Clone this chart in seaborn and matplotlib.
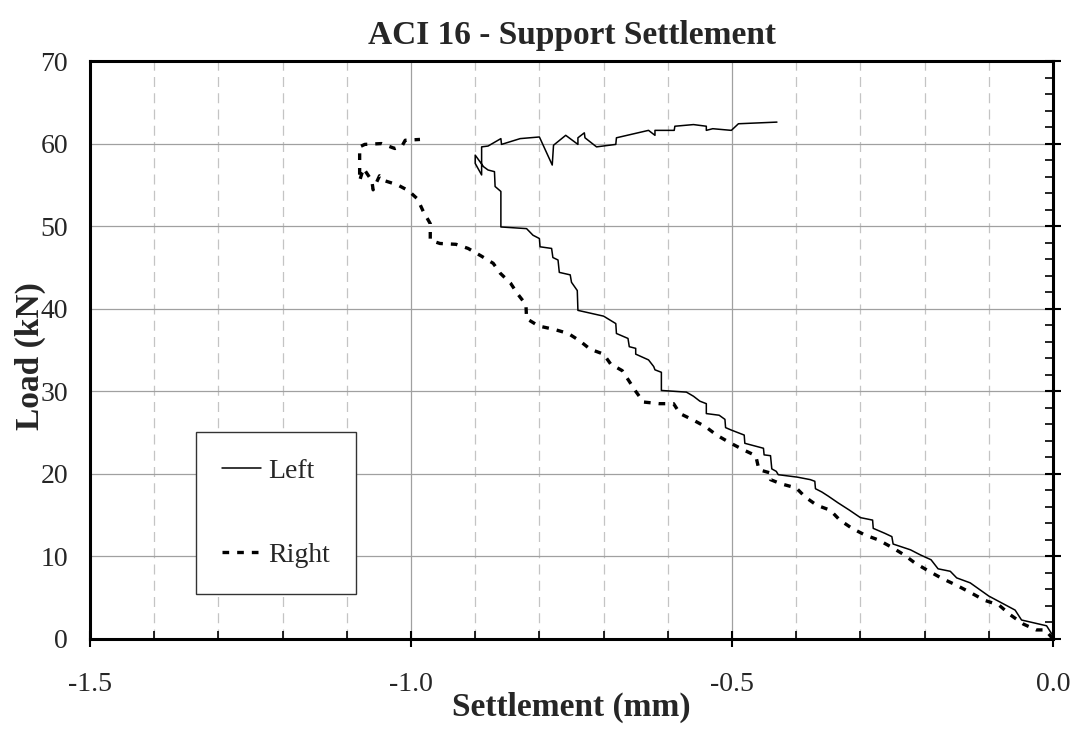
import matplotlib
matplotlib.use("Agg")
import matplotlib.pyplot as plt
from matplotlib.ticker import MultipleLocator, FormatStrFormatter
import pandas as pd
import seaborn as sns

# Settlement (mm) and load (kN)
left_x = [0.000, -0.001, -0.010, -0.049, -0.059, -0.100, -0.129, -0.150, -0.160, -0.179,
          -0.190, -0.207, -0.222, -0.249, -0.251, -0.262, -0.280, -0.281, -0.300, -0.317,
          -0.335, -0.350, -0.360, -0.370, -0.371, -0.378, -0.398, -0.428, -0.431, -0.438,
          -0.440, -0.450, -0.451, -0.480, -0.481, -0.501, -0.510, -0.511, -0.520, -0.540,
          -0.540, -0.550, -0.560, -0.571, -0.610, -0.610, -0.620, -0.622, -0.630, -0.650,
          -0.650, -0.660, -0.662, -0.680, -0.681, -0.700, -0.740, -0.741, -0.750, -0.752,
          -0.769, -0.771, -0.779, -0.781, -0.799, -0.800, -0.810, -0.820, -0.860, -0.860,
          -0.869, -0.870, -0.880, -0.887, -0.900, -0.900, -0.890, -0.890, -0.880, -0.860,
          -0.859, -0.830, -0.800, -0.780, -0.778, -0.759, -0.740, -0.740, -0.730, -0.729,
          -0.711, -0.681, -0.680, -0.630, -0.620, -0.620, -0.590, -0.589, -0.560, -0.540,
          -0.540, -0.530, -0.501, -0.490, -0.430]
left_y = [0.0, 0.5, 1.6, 2.3, 3.5, 5.2, 6.8, 7.4, 8.2, 8.5,
          9.6, 10.2, 10.8, 11.5, 12.4, 12.8, 13.4, 14.4, 14.7, 15.6,
          16.5, 17.3, 17.8, 18.2, 19.1, 19.3, 19.6, 19.9, 20.3, 20.6,
          22.2, 22.3, 23.1, 23.7, 24.7, 25.3, 25.6, 26.6, 27.1, 27.3,
          28.5, 28.8, 29.4, 29.9, 30.1, 32.3, 32.6, 33.0, 33.8, 34.5,
          35.2, 35.4, 36.4, 37.0, 38.2, 39.1, 39.8, 42.2, 43.2, 44.1,
          44.4, 45.9, 46.2, 47.3, 47.5, 48.5, 48.9, 49.7, 49.9, 54.2,
          54.8, 56.6, 56.8, 57.2, 58.6, 57.6, 56.2, 59.6, 59.7, 60.6,
          59.9, 60.6, 60.8, 57.4, 59.8, 61.0, 59.9, 60.7, 61.3, 60.7,
          59.6, 59.9, 60.7, 61.6, 61.0, 61.6, 61.6, 62.1, 62.3, 62.1,
          61.6, 61.8, 61.6, 62.4, 62.6]

right_x = [0.000, -0.012, -0.026, -0.046, -0.066, -0.084, -0.107, -0.128, -0.150, -0.172,
           -0.193, -0.215, -0.232, -0.251, -0.272, -0.293, -0.313, -0.332, -0.347, -0.368,
           -0.386, -0.400, -0.424, -0.440, -0.440, -0.458, -0.463, -0.482, -0.504, -0.524,
           -0.541, -0.560, -0.581, -0.591, -0.613, -0.638, -0.650, -0.660, -0.671, -0.689,
           -0.700, -0.721, -0.737, -0.755, -0.777, -0.801, -0.820, -0.821, -0.834, -0.845,
           -0.861, -0.872, -0.891, -0.911, -0.930, -0.955, -0.970, -0.970, -0.981, -0.990,
           -1.004, -1.021, -1.041, -1.049, -1.059, -1.061, -1.074, -1.080, -1.080, -1.072,
           -1.046, -1.025, -1.014, -1.009, -0.986]
right_y = [0.0, 1.1, 1.1, 1.8, 2.9, 4.1, 4.7, 5.6, 6.5, 7.3,
           8.2, 9.2, 10.2, 11.1, 12.0, 12.6, 13.4, 14.4, 15.6, 16.2,
           17.2, 18.3, 18.8, 19.3, 20.1, 20.5, 22.2, 22.9, 23.8, 24.7,
           25.7, 26.5, 27.3, 28.5, 28.5, 28.7, 30.0, 31.2, 32.5, 33.3,
           34.5, 35.1, 36.1, 37.0, 37.5, 37.9, 38.8, 40.5, 41.8, 43.1,
           44.3, 45.5, 46.4, 47.3, 47.8, 47.9, 48.3, 50.3, 51.8, 53.3,
           54.3, 55.0, 55.5, 56.1, 54.4, 55.5, 57.0, 55.5, 59.6, 59.9,
           60.0, 59.4, 59.7, 60.4, 60.5]

left_df = pd.DataFrame({"Settlement": left_x, "Load": left_y})
right_df = pd.DataFrame({"Settlement": right_x, "Load": right_y})

sns.set_theme(style="white")
plt.rcParams["font.family"] = ["Liberation Serif", "DejaVu Serif"]

fig = plt.figure(figsize=(10.83, 7.31), dpi=100)
ax = fig.add_axes([90 / 1083, 1 - 639 / 731, 963 / 1083, 578 / 731])

sns.lineplot(data=left_df, x="Settlement", y="Load", sort=False, estimator=None,
             color="black", linewidth=1.1, label="Left", ax=ax)
sns.lineplot(data=right_df, x="Settlement", y="Load", sort=False, estimator=None,
             color="black", linewidth=2.4, linestyle=(0, (2, 2.4)), label="Right", ax=ax)

ax.set_xlim(-1.5, 0)
ax.set_ylim(0, 70)
ax.xaxis.set_major_locator(MultipleLocator(0.5))
ax.xaxis.set_minor_locator(MultipleLocator(0.1))
ax.xaxis.set_major_formatter(FormatStrFormatter("%.1f"))
ax.yaxis.set_major_locator(MultipleLocator(10))
ax.yaxis.set_minor_locator(MultipleLocator(2))

ax.tick_params(axis="x", which="major", direction="inout", length=11.5, width=1.5,
               bottom=True, top=False, labelsize=20, pad=18, color="black")
ax.tick_params(axis="x", which="minor", direction="in", length=5.8, width=1.2,
               bottom=True, top=False, color="black")
ax.tick_params(axis="y", which="major", direction="inout", length=11.5, width=1.5,
               left=False, right=True, labelsize=20, pad=10, color="black")
ax.tick_params(axis="y", which="minor", direction="in", length=5.8, width=1.2,
               left=False, right=True, color="black")

ax.set_axisbelow(True)
ax.grid(True, which="major", color="#a0a0a0", linewidth=0.9, linestyle="-")
ax.grid(True, which="minor", axis="x", color="#c4c4c4", linewidth=0.9, linestyle=(0, (8, 5)))

for s in ax.spines.values():
    s.set_visible(True)
    s.set_color("black")
    s.set_linewidth(2.2)

ax.set_title("ACI 16 - Support Settlement", fontsize=24, fontweight="bold", pad=12)
ax.set_xlabel("Settlement (mm)", fontsize=24, fontweight="bold")
ax.set_ylabel("Load (kN)", fontsize=24, fontweight="bold")
ax.xaxis.set_label_coords(0.5, -0.092)
ax.yaxis.set_label_coords(-0.046, 0.49)

leg = ax.legend(loc="upper left", bbox_to_anchor=(0.110, 0.358), fontsize=20, frameon=True,
                fancybox=False, edgecolor="#333333", framealpha=1, labelspacing=2.1,
                borderpad=0.95, handlelength=1.4, handletextpad=0.25, borderaxespad=0)
leg.get_frame().set_linewidth(1.0)

fig.savefig("out.png", dpi=100)
